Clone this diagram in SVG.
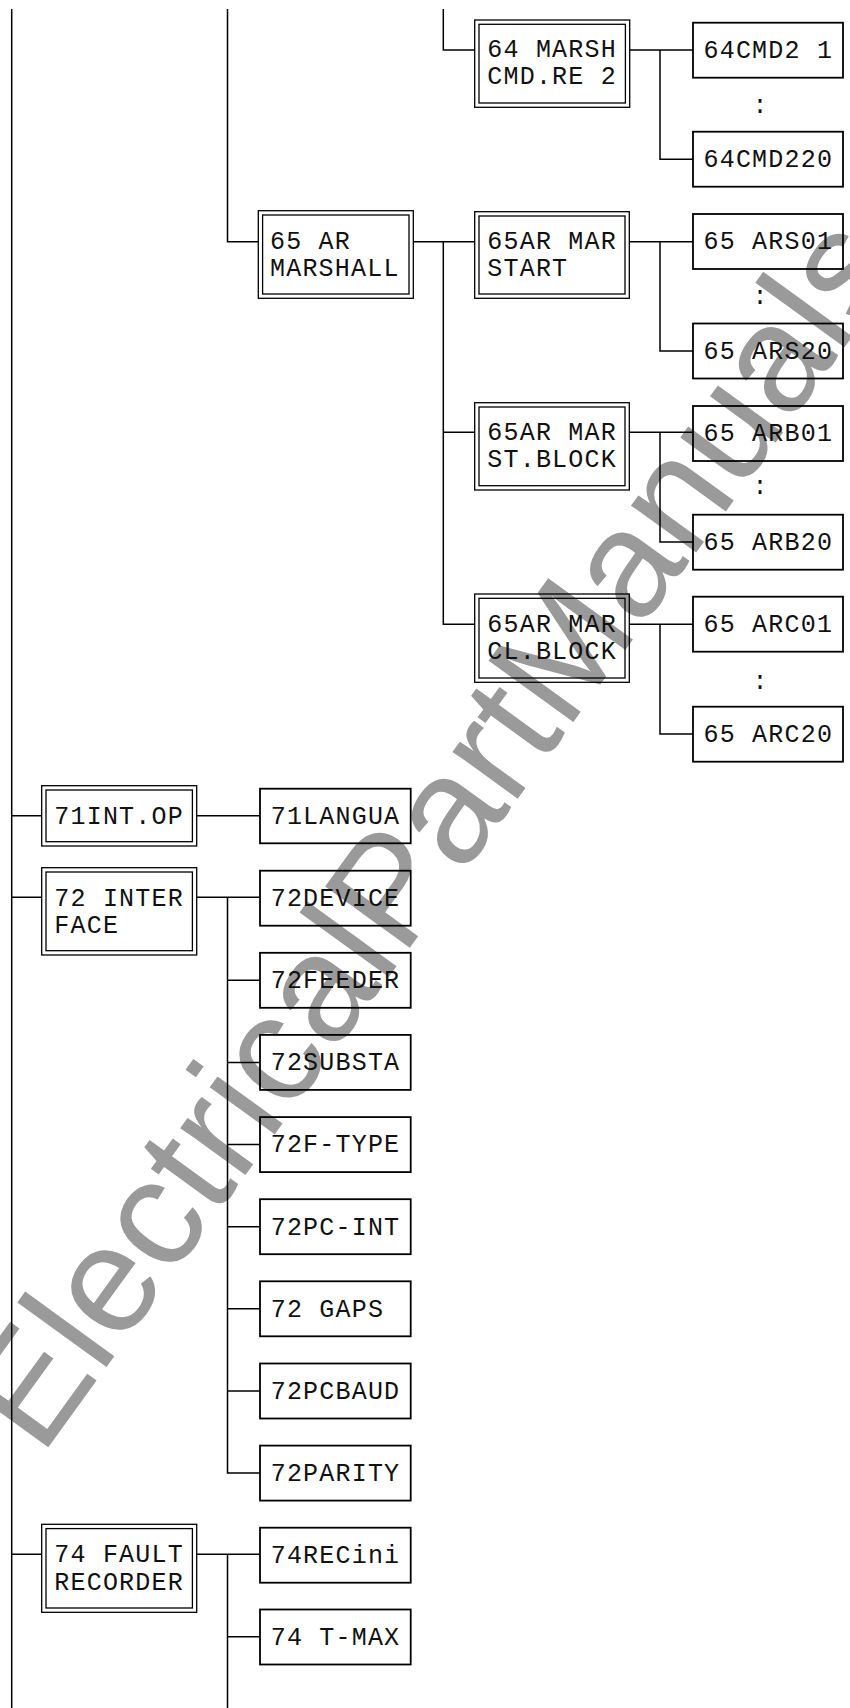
<svg xmlns="http://www.w3.org/2000/svg" width="850" height="1708" viewBox="0 0 850 1708">
<style>
.bg{fill:#ffffff}
.wm{font-family:"Liberation Sans",Arial,sans-serif;font-size:152px;fill:#9a9a9a}
.ln{fill:none;stroke:#000;stroke-width:1.5}
.sb{fill:none;stroke:#000;stroke-width:1.8}
.db{fill:none;stroke:#000;stroke-width:1.3}
.t{font-family:"Liberation Mono","Courier New",monospace;font-size:25px;letter-spacing:1.2px;fill:#111}
.c{font-family:"Liberation Mono","Courier New",monospace;font-size:25px;fill:#111;text-anchor:middle}
</style>
<rect class="bg" x="0" y="0" width="850" height="1708"/>
<g id="watermark">
<text class="wm" text-anchor="middle" transform="translate(472,862) rotate(-54.1)">ElectricalPartManuals</text>
</g>
<g id="connectors">
<path class="ln" d="M11.7,9V1708"/>
<path class="ln" d="M227.5,9V241.7H258.3"/>
<path class="ln" d="M443.3,9V50H474.7"/>
<path class="ln" d="M629.7,50H693M660,50V159.2H693"/>
<path class="ln" d="M413.3,241.7H474.7M443.3,241.7V624.3H474.7M443.3,432.3H474.7"/>
<path class="ln" d="M629.3,241.7H693M660,241.7V351H693"/>
<path class="ln" d="M629.3,432.3H693M660,432.3V542H693"/>
<path class="ln" d="M629.3,624.3H693M660,624.3V734H693"/>
<path class="ln" d="M11.7,815.7H41.7M196.7,815.7H260"/>
<path class="ln" d="M11.7,897.3H41.7M196.7,897.3H260M227.5,897.3V1473H260"/>
<path class="ln" d="M227.5,980.3H260M227.5,1062.4H260M227.5,1144.6H260M227.5,1226.7H260M227.5,1308.8H260M227.5,1391H260"/>
<path class="ln" d="M11.7,1554.3H41.7M196.7,1554.3H260M227.5,1554.3V1708M227.5,1636.8H260"/>
</g>
<g id="n64marsh">
<rect class="db" x="474.7" y="20" width="155" height="87.3"/>
<rect class="db" x="479" y="24.3" width="146.4" height="78.7"/>
<text class="t" x="487.3" y="56.7">64 MARSH</text>
<text class="t" x="487.3" y="84.3">CMD.RE 2</text>
</g>
<g id="n64cmd21">
<rect class="sb" x="693" y="22.7" width="150" height="55"/>
<text class="t" x="703.5" y="58">64CMD2 1</text>
</g>
<text class="c" x="760" y="113">:</text>
<g id="n64cmd220">
<rect class="sb" x="693" y="131.7" width="150" height="55"/>
<text class="t" x="703.5" y="167">64CMD220</text>
</g>
<g id="n65armarshall">
<rect class="db" x="258.3" y="210.7" width="155" height="87.6"/>
<rect class="db" x="262.6" y="215" width="146.4" height="79"/>
<text class="t" x="270" y="248.7">65 AR</text>
<text class="t" x="270" y="276">MARSHALL</text>
</g>
<g id="n65start">
<rect class="db" x="474.7" y="211.7" width="154.6" height="86.6"/>
<rect class="db" x="479" y="216" width="146" height="78"/>
<text class="t" x="487.3" y="249.3">65AR MAR</text>
<text class="t" x="487.3" y="276">START</text>
</g>
<g id="n65ars01">
<rect class="sb" x="693" y="214" width="150" height="55"/>
<text class="t" x="703.5" y="249.3">65 ARS01</text>
</g>
<text class="c" x="760" y="303.5">:</text>
<g id="n65ars20">
<rect class="sb" x="693" y="323.5" width="150" height="55"/>
<text class="t" x="703.5" y="358.8">65 ARS20</text>
</g>
<g id="n65stblock">
<rect class="db" x="474.7" y="402.7" width="154.6" height="87.3"/>
<rect class="db" x="479" y="407" width="146" height="78.7"/>
<text class="t" x="487.3" y="440">65AR MAR</text>
<text class="t" x="487.3" y="467.3">ST.BLOCK</text>
</g>
<g id="n65arb01">
<rect class="sb" x="693" y="406" width="150" height="55"/>
<text class="t" x="703.5" y="441.3">65 ARB01</text>
</g>
<text class="c" x="760" y="494">:</text>
<g id="n65arb20">
<rect class="sb" x="693" y="514.7" width="150" height="55"/>
<text class="t" x="703.5" y="550">65 ARB20</text>
</g>
<g id="n65clblock">
<rect class="db" x="474.7" y="594" width="154.6" height="88.3"/>
<rect class="db" x="479" y="598.3" width="146" height="79.7"/>
<text class="t" x="487.3" y="632">65AR MAR</text>
<text class="t" x="487.3" y="659.3">CL.BLOCK</text>
</g>
<g id="n65arc01">
<rect class="sb" x="693" y="596.7" width="150" height="55"/>
<text class="t" x="703.5" y="632">65 ARC01</text>
</g>
<text class="c" x="760" y="689">:</text>
<g id="n65arc20">
<rect class="sb" x="693" y="706.7" width="150" height="55"/>
<text class="t" x="703.5" y="742">65 ARC20</text>
</g>
<g id="n71intop">
<rect class="db" x="41.7" y="785.7" width="155" height="60.3"/>
<rect class="db" x="46" y="790" width="146.4" height="51.7"/>
<text class="t" x="54.3" y="823.5">71INT.OP</text>
</g>
<g id="n71langua">
<rect class="sb" x="260" y="788.7" width="150.7" height="54.6"/>
<text class="t" x="270.7" y="823.5">71LANGUA</text>
</g>
<g id="n72interface">
<rect class="db" x="41.7" y="867.7" width="155" height="87.3"/>
<rect class="db" x="46" y="872" width="146.4" height="78.7"/>
<text class="t" x="54.3" y="905.7">72 INTER</text>
<text class="t" x="54.3" y="933">FACE</text>
</g>
<g id="n72device">
<rect class="sb" x="260" y="870.7" width="150.7" height="55"/>
<text class="t" x="270.7" y="906">72DEVICE</text>
</g>
<g id="n72feeder">
<rect class="sb" x="260" y="952.8" width="150.7" height="55"/>
<text class="t" x="270.7" y="988.1">72FEEDER</text>
</g>
<g id="n72substa">
<rect class="sb" x="260" y="1034.9" width="150.7" height="55"/>
<text class="t" x="270.7" y="1070.2">72SUBSTA</text>
</g>
<g id="n72ftype">
<rect class="sb" x="260" y="1117.1" width="150.7" height="55"/>
<text class="t" x="270.7" y="1152.4">72F-TYPE</text>
</g>
<g id="n72pcint">
<rect class="sb" x="260" y="1199.2" width="150.7" height="55"/>
<text class="t" x="270.7" y="1234.5">72PC-INT</text>
</g>
<g id="n72gaps">
<rect class="sb" x="260" y="1281.3" width="150.7" height="55"/>
<text class="t" x="270.7" y="1316.6">72 GAPS</text>
</g>
<g id="n72pcbaud">
<rect class="sb" x="260" y="1363.5" width="150.7" height="55"/>
<text class="t" x="270.7" y="1398.8">72PCBAUD</text>
</g>
<g id="n72parity">
<rect class="sb" x="260" y="1445.6" width="150.7" height="55"/>
<text class="t" x="270.7" y="1480.9">72PARITY</text>
</g>
<g id="n74fault">
<rect class="db" x="41.7" y="1524.3" width="155" height="88"/>
<rect class="db" x="46" y="1528.6" width="146.4" height="79.4"/>
<text class="t" x="54.3" y="1562.3">74 FAULT</text>
<text class="t" x="54.3" y="1590">RECORDER</text>
</g>
<g id="n74recini">
<rect class="sb" x="260" y="1527.7" width="150.7" height="55"/>
<text class="t" x="270.7" y="1563">74RECini</text>
</g>
<g id="n74tmax">
<rect class="sb" x="260" y="1609.5" width="150.7" height="55"/>
<text class="t" x="270.7" y="1644.8">74 T-MAX</text>
</g>
</svg>
